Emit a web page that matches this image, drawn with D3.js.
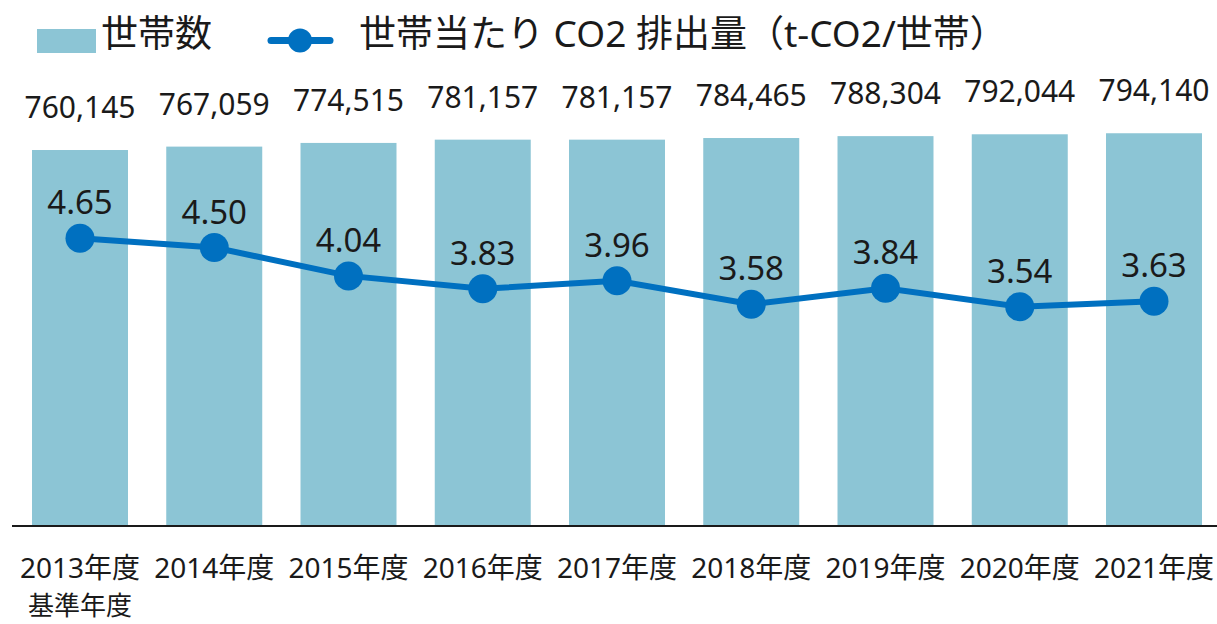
<!DOCTYPE html>
<html>
<head>
<meta charset="utf-8">
<script src="https://cdn.jsdelivr.net/npm/d3@7"></script>
<style>
body { margin: 0; background: #fff; }
svg text { font-family: "Noto Sans", "Noto Sans CJK JP", sans-serif; fill: #1a1a1a; }
</style>
</head>
<body>
<script>
// data
var years = ["2013年度", "2014年度", "2015年度", "2016年度", "2017年度", "2018年度", "2019年度", "2020年度", "2021年度"];
var households = [760145, 767059, 774515, 781157, 781157, 784465, 788304, 792044, 794140];
var co2PerHouse = [4.65, 4.50, 4.04, 3.83, 3.96, 3.58, 3.84, 3.54, 3.63];
var yearNote = ["基準年度", "", "", "", "", "", "", "", ""];
var legendLabels = ["世帯数", "世帯当たり CO2 排出量（t-CO2/世帯）"];

var barColor = "#8cc5d5";
var lineColor = "#0070c0";

var svg = d3.select("body").append("svg")
	.attr("width", 1217)
	.attr("height", 624);

var x = d3.scaleBand()
	.domain(years)
	.range([32, 1202])
	.paddingInner(0.285)
	.paddingOuter(0);

var yBar = d3.scaleLinear().domain([0, 1000000]).range([525, 31.7]);
var yLine = d3.scaleLinear().domain([0, 8]).range([525, 31.7]);

//bars
svg.selectAll("rect.bar")
	.data(households)
	.enter()
	.append("rect")
	.attr("class", "bar")
	.attr("x", function(d, i) { return x(years[i]); })
	.attr("y", function(d) { return yBar(d); })
	.attr("width", x.bandwidth())
	.attr("height", function(d) { return yBar(0) - yBar(d); })
	.style("fill", barColor);

//bar value labels
svg.selectAll("text.barval")
	.data(households)
	.enter()
	.append("text")
	.attr("class", "barval")
	.attr("x", function(d, i) { return x(years[i]) + x.bandwidth() / 2; })
	.attr("y", function(d) { return yBar(d) - 32; })
	.attr("text-anchor", "middle")
	.style("font-size", "30px")
	.text(function(d) { return d3.format(",")(d); });

//x axis
var xAxis = svg.append("g")
	.attr("transform", "translate(0,526)")
	.call(d3.axisBottom(x).tickSize(0).tickPadding(0));
xAxis.select(".domain").remove();
xAxis.append("line")
	.attr("x1", 12).attr("x2", 1217)
	.attr("y1", 0).attr("y2", 0)
	.style("stroke", "#1a1a1a")
	.style("stroke-width", 2);
xAxis.selectAll(".tick text")
	.attr("y", 52)
	.attr("dy", 0)
	.style("font-size", "28px")
	.style("fill", "#1a1a1a");
// second line under the first year only
xAxis.selectAll(".tick")
	.append("text")
	.attr("y", 89)
	.attr("text-anchor", "middle")
	.style("font-size", "26px")
	.text(function(d, i) { return yearNote[i]; });

//line
var line = d3.line()
	.x(function(d, i) { return x(years[i]) + x.bandwidth() / 2; })
	.y(function(d) { return yLine(d); });

svg.append("path")
	.datum(co2PerHouse)
	.attr("d", line)
	.style("fill", "none")
	.style("stroke", lineColor)
	.style("stroke-width", 6);

svg.selectAll("circle.pt")
	.data(co2PerHouse)
	.enter()
	.append("circle")
	.attr("class", "pt")
	.attr("cx", function(d, i) { return x(years[i]) + x.bandwidth() / 2; })
	.attr("cy", function(d) { return yLine(d); })
	.attr("r", 14.5)
	.style("fill", lineColor);

svg.selectAll("text.lineval")
	.data(co2PerHouse)
	.enter()
	.append("text")
	.attr("class", "lineval")
	.attr("x", function(d, i) { return x(years[i]) + x.bandwidth() / 2; })
	.attr("y", function(d) { return yLine(d) - 24; })
	.attr("text-anchor", "middle")
	.style("font-size", "33px")
	.text(function(d) { return d3.format(".2f")(d); });

//legend
var legend = svg.append("g");
legend.append("rect")
	.attr("x", 37).attr("y", 29)
	.attr("width", 59).attr("height", 24)
	.style("fill", barColor);
legend.append("text")
	.attr("x", 101).attr("y", 47)
	.style("font-size", "37px")
	.text(legendLabels[0]);
legend.append("line")
	.attr("x1", 271).attr("x2", 330)
	.attr("y1", 40.5).attr("y2", 40.5)
	.style("stroke", lineColor)
	.style("stroke-width", 7)
	.style("stroke-linecap", "round");
legend.append("circle")
	.attr("cx", 300).attr("cy", 40.5)
	.attr("r", 12)
	.style("fill", lineColor);
legend.append("text")
	.attr("x", 359).attr("y", 47)
	.style("font-size", "37px")
	.text(legendLabels[1]);
</script>
</body>
</html>
